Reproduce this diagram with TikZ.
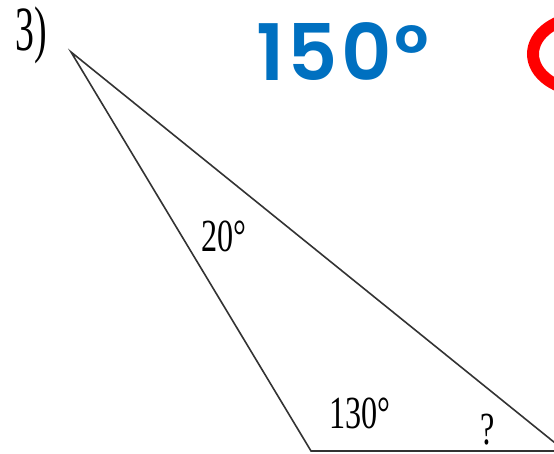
\documentclass[tikz,border=0pt]{standalone}
\usepackage{fontspec}
\usepackage{xcolor}
\usepackage{tikz}
\setmainfont{Liberation Serif}
\newfontfamily\labelfont[FakeStretch=0.7]{Liberation Serif}
\newfontfamily\numfont[FakeStretch=0.6]{Liberation Serif}
\newfontfamily\answerfont[LetterSpace=4]{Poppins SemiBold}
\definecolor{answerblue}{HTML}{0070C0}
\definecolor{markred}{HTML}{FF0000}

\begin{document}
\begin{tikzpicture}[x=1pt,y=-1pt]
\useasboundingbox (0,0) rectangle (554,454);
\clip (0,0) rectangle (554,454);
\coordinate (top) at (71,52);
\coordinate (left) at (311,451);
\coordinate (right) at (565,451);
\draw[line width=1.6pt,black!80] (top) -- (left) -- (right) -- cycle;
\node[font=\numfont\fontsize{63}{63}\selectfont,inner sep=0] (num) at (31,35) {3)};
\node[font=\labelfont\fontsize{46}{46}\selectfont,inner sep=0] (atop) at (224,236) {20°};
\node[font=\labelfont\fontsize{46}{46}\selectfont,inner sep=0] (aleft) at (360,413) {130°};
\node[font=\labelfont\fontsize{46}{46}\selectfont,inner sep=0] (aright) at (488,430) {?};
\node[font=\answerfont\fontsize{78}{78}\selectfont,text=answerblue,inner sep=0] (answer) at (343,52) {150°};
\draw[markred,line width=12pt] (585,54) ellipse [x radius=52,y radius=37];
\end{tikzpicture}
\end{document}
